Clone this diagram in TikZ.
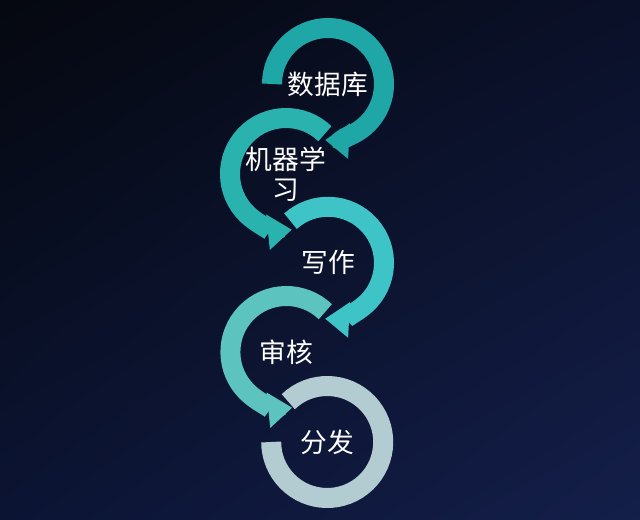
\documentclass[tikz,border=0pt]{standalone}
\usepackage{fontspec}
\newfontfamily\cjk{Noto Sans CJK SC}
\definecolor{flowBgA}{HTML}{05080F}
\definecolor{flowBgB}{HTML}{0A1028}
\definecolor{flowBgC}{HTML}{0B1433}
\definecolor{flowBgD}{HTML}{141F4A}
\definecolor{flowOne}{HTML}{1FA6A6}
\definecolor{flowTwo}{HTML}{2AB2AE}
\definecolor{flowThree}{HTML}{3EC4C6}
\definecolor{flowFour}{HTML}{5CC3BF}
\definecolor{flowFive}{HTML}{B2CCD2}
\usetikzlibrary{arrows.meta,shadings}
\tikzset{
  ring/.style={line width=0.5cm, line cap=butt},
  ringarrow/.style={ring, -{Triangle[width=0.85cm,length=0.6cm]}},
  label/.style={text=white, font=\cjk\fontsize{19}{21}\selectfont, align=center, inner sep=0pt}
}

\begin{document}
\begin{tikzpicture}
  % background
  \shade[upper left=flowBgA, upper right=flowBgB, lower left=flowBgC, lower right=flowBgD]
    (0,0) rectangle (16,13);
  \useasboundingbox (0,0) rectangle (16,13);

  % stages
  \node[label] (db)      at (8.2, 10.9)   {数据库};
  \node[label] (ml)      at (7.15, 8.65)  {机器学\\习};
  \node[label] (write)   at (8.2, 6.43)   {写作};
  \node[label] (review)  at (7.16, 4.2)   {审核};
  \node[label] (publish) at (8.18, 1.95)  {分发};

  % rings, last first so each arrow lies on top
  \draw[ring, flowFive] ([shift={(134:1.4)}]publish.center) arc[start angle=134, end angle=-180, radius=1.4];
  \draw[ringarrow, flowFour] ([shift={(46:1.4)}]review.center) arc[start angle=46, end angle=276, radius=1.4];
  \draw[ringarrow, flowThree] ([shift={(132:1.4)}]write.center) arc[start angle=132, end angle=-93, radius=1.4];
  \draw[ringarrow, flowTwo] ([shift={(46:1.4)}]ml.center) arc[start angle=46, end angle=276, radius=1.4];
  \draw[ringarrow, flowOne] ([shift={(180:1.4)}]db.center) arc[start angle=180, end angle=-93, radius=1.4];
\end{tikzpicture}
\end{document}
